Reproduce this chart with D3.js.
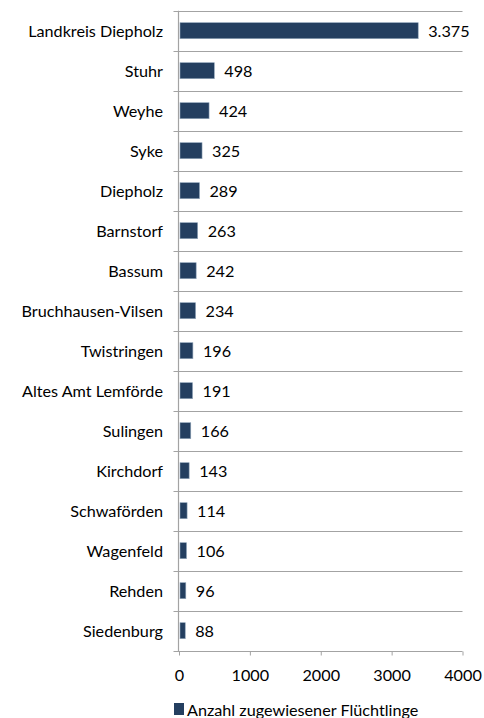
<!DOCTYPE html>
<html><head><meta charset="utf-8">
<script src="https://cdn.jsdelivr.net/npm/d3@7"></script>
<style>
html,body{margin:0;padding:0;background:#fff;}
svg{display:block;}
text{font-family:Lato,"Open Sans",sans-serif;fill:#000;}
</style></head>
<body>
<script>
const categories = ["Landkreis Diepholz","Stuhr","Weyhe","Syke","Diepholz","Barnstorf","Bassum","Bruchhausen-Vilsen","Twistringen","Altes Amt Lemförde","Sulingen","Kirchdorf","Schwaförden","Wagenfeld","Rehden","Siedenburg"];
const values = [3375,498,424,325,289,263,242,234,196,191,166,143,114,106,96,88];
const xTicks = [0,1000,2000,3000,4000];
const seriesName = "Anzahl zugewiesener Flüchtlinge";

const W = 484, H = 718;
const FS = "16.2px";
const svg = d3.select("body").append("svg").attr("width", W).attr("height", H);

const x = d3.scaleLinear().domain([0,4000]).range([179, 462.5]);
const y = d3.scaleBand().domain(categories).range([10.7, 650.7]).paddingInner(0.6).paddingOuter(0.3);
const rows = d3.scaleBand().domain(categories).range([10.7, 650.7]).padding(0);

const de = d3.formatLocale({decimal:",", thousands:".", grouping:[3], currency:["","€"]});
const fmt = de.format(",d");
const gridColor = "#A3A3A3";

// horizontal gridlines at band boundaries
const bounds = categories.map(c => rows(c));
svg.append("g").selectAll("line").data(bounds).join("line")
  .attr("x1", 173.5).attr("x2", x.range()[1])
  .attr("y1", d => Math.round(d) + 0.5).attr("y2", d => Math.round(d) + 0.5)
  .attr("stroke", gridColor).attr("stroke-width", 1);

// bottom axis
const xAxis = d3.axisBottom(x).tickValues(xTicks).tickFormat(d3.format("d")).tickSize(4).tickSizeOuter(0).tickPadding(14);
const gx = svg.append("g").attr("transform", `translate(0,${Math.round(rows.range()[1]) + 0.5})`).call(xAxis);
gx.select(".domain").attr("stroke", gridColor).attr("d", `M173.5,0H${x.range()[1]}`);
gx.selectAll(".tick line").attr("stroke", gridColor);
gx.selectAll(".tick text").attr("font-size", FS).attr("font-family", "Lato").attr("fill", "#000");

// bars
svg.append("g").selectAll("rect").data(values).join("rect")
  .attr("x", x(0) + 1)
  .attr("y", (d,i) => y(categories[i]))
  .attr("width", d => x(d) - x(0) - 1)
  .attr("height", y.bandwidth())
  .attr("fill", "#243F60")
  .attr("stroke", "#8FA3B8").attr("stroke-width", 0.6);

// vertical axis line
svg.append("line").attr("x1", Math.round(x(0)) - 0.5).attr("x2", Math.round(x(0)) - 0.5)
  .attr("y1", rows.range()[0]).attr("y2", rows.range()[1] + 1)
  .attr("stroke", gridColor).attr("stroke-width", 1.2);

// category labels
svg.append("g").selectAll("text").data(categories).join("text")
  .attr("x", 163)
  .attr("y", d => rows(d) + rows.bandwidth()/2 + 0.8)
  .attr("dy", "0.35em")
  .attr("text-anchor", "end")
  .attr("font-size", FS)
  .text(d => d);

// value labels
svg.append("g").selectAll("text").data(values).join("text")
  .attr("x", d => x(d) + 10)
  .attr("y", (d,i) => rows(categories[i]) + rows.bandwidth()/2 + 0.8)
  .attr("dy", "0.35em")
  .attr("font-size", FS)
  .text(d => fmt(d));

// legend
const lg = svg.append("g");
lg.append("rect").attr("x", 174).attr("y", 703).attr("width", 10).attr("height", 12).attr("fill", "#243F60");
lg.append("text").attr("x", 187).attr("y", 710).attr("dy", "0.35em").attr("font-size", FS).text(seriesName);
</script>
</body></html>
